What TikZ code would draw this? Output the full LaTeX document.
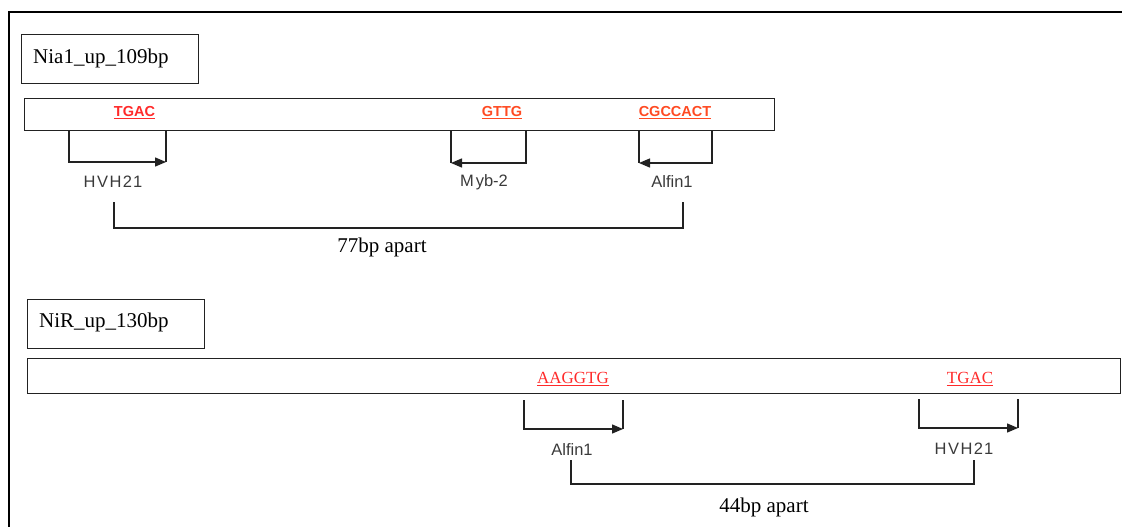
\documentclass[tikz,border=0pt]{standalone}
\usepackage{fontspec}
\setmainfont{Liberation Serif}
\setsansfont{Liberation Sans}
\usetikzlibrary{arrows.meta}
\definecolor{seqred}{HTML}{FF2A2A}
\definecolor{seqorange}{HTML}{FF4A22}
\definecolor{linegray}{HTML}{222222}
\definecolor{labgray}{HTML}{3A3A3A}
\tikzset{
  titlebox/.style={draw=linegray, line width=1.2pt, minimum width=177pt, minimum height=49pt, inner sep=0pt},
  titletext/.style={font=\fontsize{21}{25}\selectfont, anchor=west, inner sep=0pt},
  barbox/.style={draw=linegray, line width=1.2pt, inner sep=0pt},
  seqsans/.style={font=\sffamily\bfseries\fontsize{14.5}{17}\selectfont, text=seqred, inner sep=0pt},
  seqserif/.style={font=\fontsize{17}{20}\selectfont, text=seqred, inner sep=0pt},
  lab/.style={font=\sffamily\fontsize{16.5}{19}\selectfont, text=labgray, inner sep=0pt},
  apart/.style={font=\fontsize{21}{25}\selectfont, inner sep=0pt},
  brk/.style={draw=linegray, line width=1.3pt},
  brkarrow/.style={brk, -{Triangle[length=11pt,width=9pt]}}
}
\begin{document}
\begin{tikzpicture}[x=1pt,y=-1pt]
\useasboundingbox (0,0) rectangle (1122,527);
% outer frame
\coordinate (fbl) at (9,528);
\coordinate (ftl) at (9,12);
\coordinate (ftr) at (1122,12);
\draw[line width=2.6pt, line cap=butt] (fbl) -- (ftl) -- (ftr);

% ===== Section 1 =====
\node[titlebox, anchor=north west] (t1) at (21,34) {};
\node[titletext] (t1txt) at (33,58) {Nia1\_up\_109bp};
\node[barbox, anchor=north west, minimum width=750pt, minimum height=32pt] (bar1) at (24,98) {};

\node[seqsans] (s1) at (134.5,113) {\underline{TGAC}};
\node[seqsans, text=seqorange] (s2) at (502,113) {\underline{GTTG}};
\node[seqsans, text=seqorange] (s3) at (675,113) {\underline{CGCCACT}};

% HVH21 bracket (arrow right)
\coordinate (h1a) at (69,130);
\coordinate (h1b) at (166,162);
\coordinate (h1c) at (166,130);
\draw[brkarrow] (h1a) |- (h1b);
\draw[brk] (h1c) -- (h1b);
\node[lab] (l1) at (113,182) {H\kern1.5pt V\kern1.5pt H\kern1.5pt 2\kern1pt 1};

% Myb-2 bracket (arrow left)
\coordinate (m1a) at (526,130);
\coordinate (m1b) at (451,163);
\coordinate (m1c) at (451,130);
\draw[brkarrow] (m1a) |- (m1b);
\draw[brk] (m1c) -- (m1b);
\node[lab] (l2) at (484,182) {M\kern2pt yb-2};

% Alfin1 bracket (arrow left)
\coordinate (a1a) at (712,130);
\coordinate (a1b) at (639,163);
\coordinate (a1c) at (639,130);
\draw[brkarrow] (a1a) |- (a1b);
\draw[brk] (a1c) -- (a1b);
\node[lab] (l3) at (672,182) {Alfin1};

% 77bp bracket
\coordinate (d1a) at (114,202);
\coordinate (d1b) at (683,202);
\draw[brk] (d1a) -- (114,228) -- (683,228) -- (d1b);
\node[apart] (p1) at (382,247) {77bp apart};

% ===== Section 2 =====
\node[titlebox, anchor=north west] (t2) at (27,299) {};
\node[titletext] (t2txt) at (39,322) {NiR\_up\_130bp};
\node[barbox, anchor=north west, minimum width=1093pt, minimum height=35pt] (bar2) at (27,358) {};

\node[seqserif] (s4) at (573,379) {\underline{AAGGTG}};
\node[seqserif] (s5) at (970,379) {\underline{TGAC}};

% Alfin1 bracket (arrow right)
\coordinate (a2a) at (524,400);
\coordinate (a2b) at (623,429);
\coordinate (a2c) at (623,400);
\draw[brkarrow] (a2a) |- (a2b);
\draw[brk] (a2c) -- (a2b);
\node[lab] (l4) at (572,450) {Alfin1};

% HVH21 bracket (arrow right)
\coordinate (h2a) at (919,399);
\coordinate (h2b) at (1018,428);
\coordinate (h2c) at (1018,399);
\draw[brkarrow] (h2a) |- (h2b);
\draw[brk] (h2c) -- (h2b);
\node[lab] (l5) at (964,449) {H\kern1.5pt V\kern1.5pt H\kern1.5pt 2\kern1pt 1};

% 44bp bracket
\coordinate (d2a) at (571,460);
\coordinate (d2b) at (974,460);
\draw[brk] (d2a) -- (571,484) -- (974,484) -- (d2b);
\node[apart] (p2) at (764,507) {44bp apart};
\end{tikzpicture}
\end{document}
